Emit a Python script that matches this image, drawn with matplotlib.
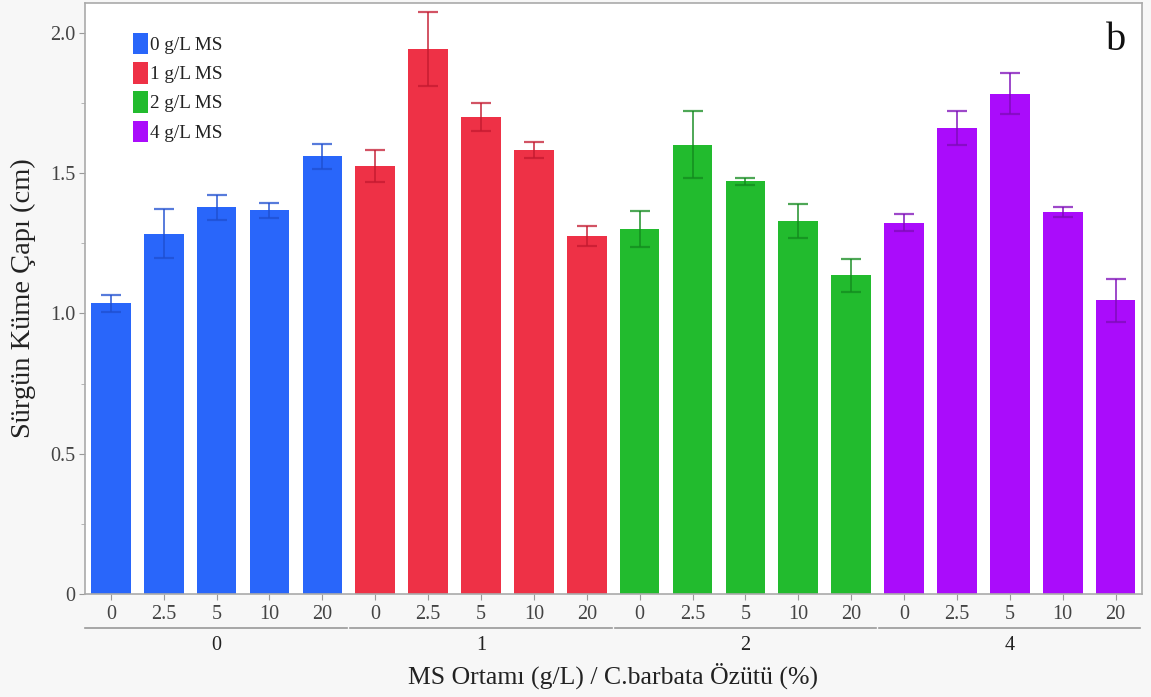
import matplotlib
matplotlib.use("Agg")
import matplotlib.pyplot as plt
from matplotlib.patches import Patch
import numpy as np

groups = ["0", "1", "2", "4"]
sub_labels = ["0", "2.5", "5", "10", "20"]
legend_labels = ["0 g/L MS", "1 g/L MS", "2 g/L MS", "4 g/L MS"]

means_0 = [1.036, 1.285, 1.379, 1.368, 1.560]
means_1 = [1.526, 1.943, 1.700, 1.583, 1.276]
means_2 = [1.302, 1.602, 1.471, 1.329, 1.136]
means_4 = [1.324, 1.660, 1.784, 1.362, 1.047]

err_0 = [0.030, 0.086, 0.045, 0.026, 0.045]
err_1 = [0.056, 0.133, 0.051, 0.030, 0.037]
err_2 = [0.064, 0.119, 0.013, 0.061, 0.058]
err_4 = [0.030, 0.061, 0.072, 0.017, 0.077]

colors = ["#2966fa", "#ee3146", "#22bb2e", "#aa0cfb"]
ecolors = ["#1f4fd0", "#c41a30", "#138a1e", "#7d0bb8"]

all_means = [means_0, means_1, means_2, means_4]
all_errs = [err_0, err_1, err_2, err_4]

plt.rcParams['font.family'] = ['Liberation Serif', 'DejaVu Serif']

fig = plt.figure(figsize=(11.51, 6.97), dpi=100, facecolor="#f7f7f7")
ax = fig.add_axes([0.0738, 0.1478, 0.9184, 0.8479])
ax.set_facecolor("white")

n = len(sub_labels)
for gi, (m, e) in enumerate(zip(all_means, all_errs)):
    x = np.arange(n) + gi * n
    ax.bar(x, m, width=0.75, color=colors[gi], zorder=2)
    ax.errorbar(x, m, yerr=e, fmt="none", ecolor=ecolors[gi], elinewidth=1.4,
                capsize=7.5, capthick=1.6, alpha=0.75, zorder=3)

ax.set_xlim(-0.49, len(groups) * n - 0.5)
ax.set_ylim(0, 2.107)
ax.set_yticks([0, 0.5, 1.0, 1.5, 2.0])
ax.set_yticklabels(["0", "0.5", "1.0", "1.5", "2.0"])
ax.set_yticks([0.25, 0.75, 1.25, 1.75], minor=True)
ax.set_xticks(np.arange(len(groups) * n))
ax.set_xticklabels(sub_labels * len(groups))
ax.tick_params(axis="both", labelsize=14.5, colors="#444444", length=4, color="#999999")
ax.tick_params(axis="y", which="minor", length=3, color="#aaaaaa")
ax.tick_params(axis="x", pad=4)
ax.tick_params(axis="y", pad=3)

for s in ax.spines.values():
    s.set_color("#aaaaaa")
    s.set_linewidth(1.2)

# group separator lines and labels
trans = ax.get_xaxis_transform()
for gi, g in enumerate(groups):
    x0 = gi * n - 0.5 + (0.03 if gi > 0 else 0.01)
    x1 = gi * n + n - 0.5 - 0.03
    ax.plot([x0, x1], [-0.0575, -0.0575], transform=trans, color="#999999",
            lw=1.2, clip_on=False)
    ax.text(gi * n + (n - 1) / 2, -0.071, g, transform=trans, ha="center",
            va="top", fontsize=14.5, color="#222222")

ax.set_xlabel("MS Ortamı (g/L) / C.barbata Özütü (%)", fontsize=18.5,
              color="#222222", labelpad=28)
ax.set_ylabel("Sürgün Küme Çapı (cm)", fontsize=20.5, color="#222222", labelpad=10)

handles = [Patch(facecolor=c, edgecolor="none") for c in colors]
leg = ax.legend(handles, legend_labels, loc="upper left",
                bbox_to_anchor=(0.033, 0.972), frameon=False,
                fontsize=13.8, handlelength=0.75, handleheight=1.35,
                handletextpad=0.1, labelspacing=0.4, borderaxespad=0.3)
for t in leg.get_texts():
    t.set_color("#222222")

ax.text(0.985, 0.968, "b", transform=ax.transAxes, ha="right", va="top",
        fontsize=29, color="#111111")

fig.savefig("out.png", dpi=100, facecolor=fig.get_facecolor())
